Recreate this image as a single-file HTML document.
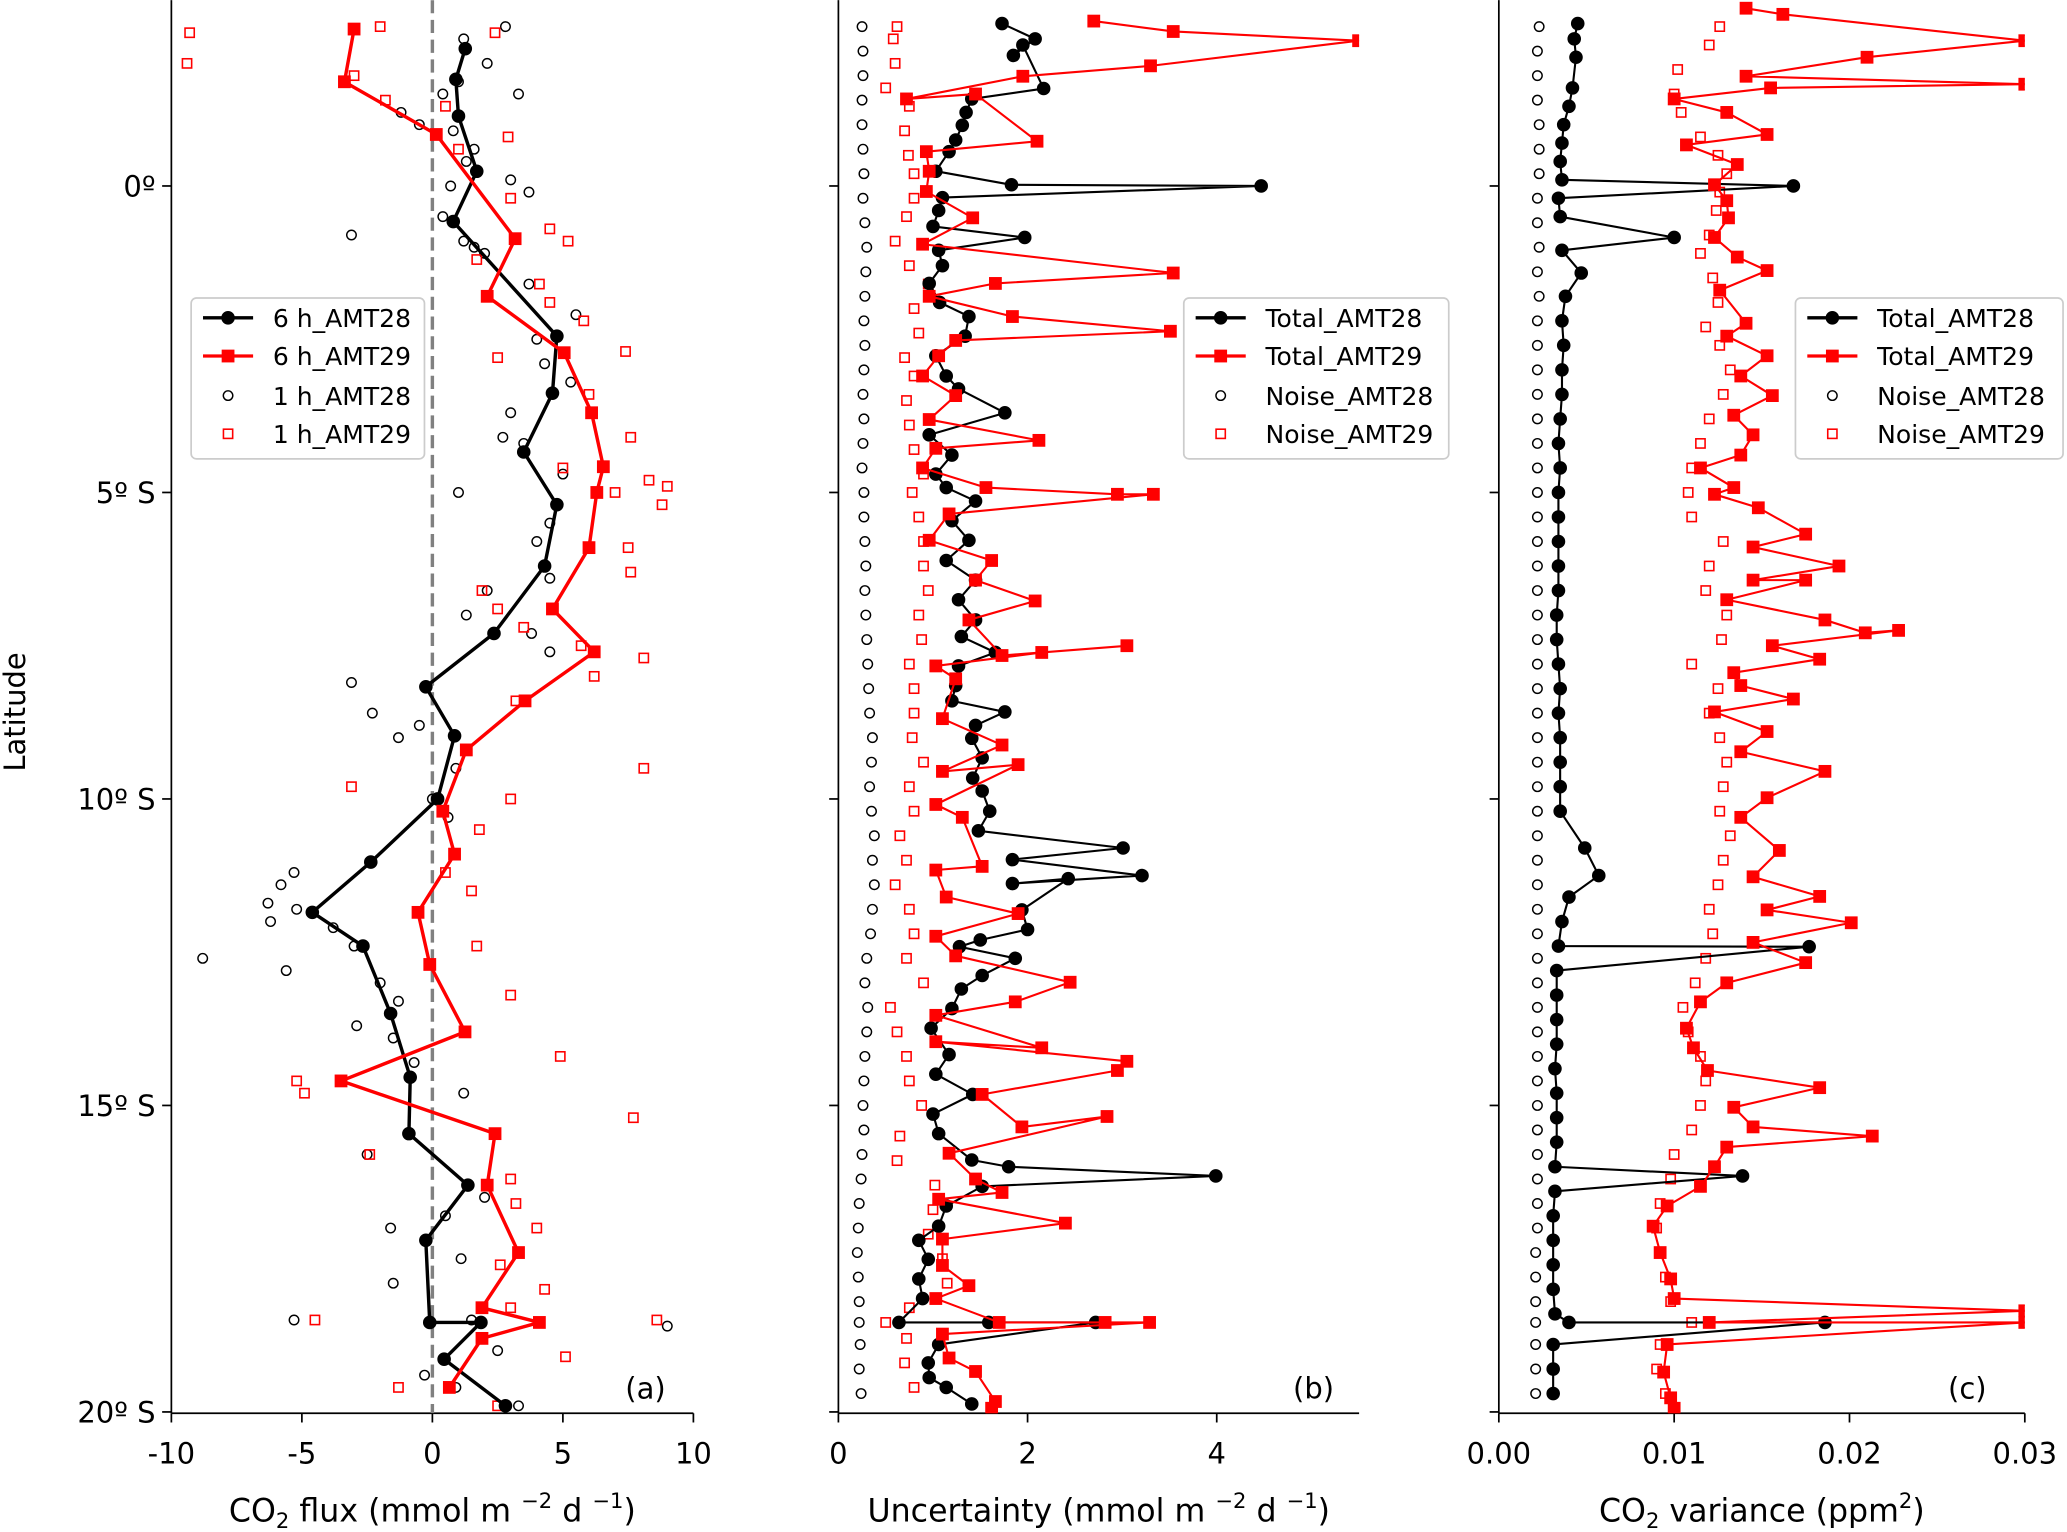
<!DOCTYPE html>
<html><head><meta charset="utf-8">
<style>
html,body{margin:0;padding:0;background:#fff;}
svg{display:block;font-family:"DejaVu Sans","Liberation Sans",sans-serif;}
</style></head>
<body>
<svg id="chart" width="2067" height="1532" viewBox="0 0 1568 1162" xmlns="http://www.w3.org/2000/svg">
<defs>
<clipPath id="ca"><rect x="130" y="0" width="396" height="1072"/></clipPath>
<clipPath id="cb"><rect x="636" y="0" width="395" height="1072"/></clipPath>
<clipPath id="cc"><rect x="1137" y="0" width="399" height="1072"/></clipPath>
</defs>
<g id="root"></g>
</svg>
<script>
// ---------- Panel (a) data ----------
const a6h28Lat = [2.24,1.74,1.14,0.24,-0.58,-2.45,-3.38,-4.34,-5.2,-6.2,-7.3,-8.17,-8.97,-10.0,-11.03,-11.85,-12.4,-13.5,-14.54,-15.46,-16.3,-17.2,-18.54,-18.54,-19.14,-19.9];
const a6h28Val = [1.26,0.9,1.0,1.7,0.8,4.77,4.6,3.5,4.77,4.3,2.36,-0.25,0.85,0.2,-2.36,-4.6,-2.66,-1.6,-0.85,-0.9,1.36,-0.25,-0.1,1.86,0.45,2.8];
const a6h29Lat = [2.56,1.7,0.84,-0.86,-1.8,-2.72,-3.7,-4.58,-5.0,-5.9,-6.9,-7.6,-8.4,-9.2,-10.2,-10.9,-11.85,-12.7,-13.8,-14.6,-15.46,-16.3,-17.4,-18.3,-18.54,-18.8,-19.6];
const a6h29Val = [-3.0,-3.37,0.15,3.17,2.1,5.05,6.1,6.55,6.3,6.0,4.6,6.2,3.55,1.3,0.4,0.85,-0.55,-0.1,1.25,-3.5,2.4,2.1,3.3,1.9,4.1,1.9,0.65];
const a1h28Lat = [2.6,2.4,2.0,1.7,1.5,1.5,1.2,1.0,0.9,0.6,0.4,0.1,0.0,-0.1,-0.5,-0.8,-0.9,-1.1,-1.0,-1.6,-2.1,-2.5,-2.9,-3.2,-3.7,-4.1,-4.2,-4.7,-5.0,-5.5,-5.8,-6.4,-6.6,-7.0,-7.3,-7.6,-8.1,-8.6,-8.8,-9.0,-9.5,-10.0,-10.3,-11.2,-11.4,-11.7,-11.8,-12.0,-12.1,-12.4,-12.6,-12.8,-13.0,-13.3,-13.7,-13.9,-14.3,-14.8,-15.8,-16.5,-16.8,-17.0,-17.5,-17.9,-18.5,-18.5,-18.6,-19.0,-19.4,-19.6,-19.9];
const a1h28Val = [2.8,1.2,2.1,1.0,0.4,3.3,-1.2,-0.5,0.8,1.6,1.3,3.0,0.7,3.7,0.4,-3.1,1.2,2.0,1.6,3.7,5.5,4.0,4.3,5.3,3.0,2.7,3.5,5.0,1.0,4.5,4.0,4.5,2.1,1.3,3.8,4.5,-3.1,-2.3,-0.5,-1.3,0.9,0.0,0.6,-5.3,-5.8,-6.3,-5.2,-6.2,-3.8,-3.0,-8.8,-5.6,-2.0,-1.3,-2.9,-1.5,-0.7,1.2,-2.5,2.0,0.5,-1.6,1.1,-1.5,-5.3,1.5,9.0,2.5,-0.3,0.9,3.3];
const a1h29Lat = [2.5,2.0,2.6,2.5,1.8,1.3,1.4,0.8,0.6,-0.2,-0.7,-0.9,-1.2,-1.6,-1.9,-2.2,-2.8,-2.7,-3.4,-4.1,-4.6,-4.8,-4.9,-5.0,-5.2,-5.9,-6.3,-6.6,-6.9,-7.2,-7.5,-7.7,-8.0,-8.4,-9.5,-9.8,-10.0,-10.5,-11.2,-11.5,-12.4,-13.2,-14.2,-14.6,-14.8,-15.2,-15.8,-16.2,-16.6,-17.0,-17.6,-18.0,-18.5,-18.5,-18.3,-19.1,-19.6,-19.9];
const a1h29Val = [-9.3,-9.4,-2.0,2.4,-3.0,0.5,-1.8,2.9,1.0,3.0,4.5,5.2,1.7,4.1,4.5,5.8,2.5,7.4,6.0,7.6,5.0,8.3,9.0,7.0,8.8,7.5,7.6,1.9,2.5,3.5,5.7,8.1,6.2,3.2,8.1,-3.1,3.0,1.8,0.5,1.5,1.7,3.0,4.9,-5.2,-4.9,7.7,-2.4,3.0,3.2,4.0,2.6,4.3,-4.5,8.6,3.0,5.1,-1.3,2.5];

// ---------- Panel (b) data ----------
const bTot28Lat = [2.65,2.4,2.13,2.3,1.59,1.42,1.2,0.99,0.75,0.56,0.24,0.02,0.0,-0.19,-0.4,-0.66,-0.84,-1.05,-1.3,-1.59,-1.9,-2.13,-2.45,-2.77,-3.1,-3.31,-3.7,-4.06,-4.39,-4.7,-4.92,-5.14,-5.46,-5.78,-6.11,-6.43,-6.75,-7.08,-7.35,-7.61,-7.83,-8.15,-8.4,-8.58,-8.8,-9.01,-9.33,-9.66,-9.87,-10.2,-10.52,-10.8,-10.99,-11.25,-11.38,-11.3,-11.81,-12.13,-12.3,-12.41,-12.6,-12.88,-13.1,-13.42,-13.74,-14.17,-14.49,-14.82,-15.14,-15.46,-15.89,-16.0,-16.15,-16.32,-16.64,-16.97,-17.2,-17.51,-17.83,-18.15,-18.54,-18.54,-18.54,-18.9,-19.2,-19.44,-19.6,-19.87];
const bTot28Val = [1.73,2.08,1.85,1.95,2.17,1.41,1.35,1.31,1.24,1.17,1.03,1.83,4.47,1.1,1.06,1.0,1.97,1.06,1.1,0.96,1.07,1.38,1.34,1.03,1.14,1.27,1.76,0.96,1.2,1.03,1.14,1.45,1.2,1.38,1.14,1.45,1.27,1.45,1.3,1.66,1.27,1.24,1.2,1.76,1.45,1.41,1.52,1.42,1.52,1.6,1.48,3.01,1.84,3.21,1.84,2.43,1.94,2.0,1.5,1.28,1.87,1.52,1.3,1.2,0.98,1.17,1.03,1.42,1.0,1.06,1.41,1.8,3.99,1.52,1.14,1.06,0.85,0.95,0.85,0.89,0.64,1.59,2.72,1.06,0.95,0.96,1.14,1.41];
const bTot29Lat = [2.69,2.52,2.37,1.96,1.79,1.42,1.5,0.73,0.56,0.24,-0.09,-0.52,-0.95,-1.42,-1.59,-1.8,-2.13,-2.37,-2.52,-2.77,-3.1,-3.42,-3.81,-4.15,-4.28,-4.6,-4.92,-5.03,-5.03,-5.35,-5.78,-6.11,-6.43,-6.77,-7.08,-7.66,-7.5,-7.61,-7.83,-8.04,-8.69,-9.12,-9.55,-9.44,-10.09,-10.3,-11.1,-11.16,-11.6,-11.87,-12.24,-12.56,-12.99,-13.31,-13.53,-14.06,-13.96,-14.28,-14.43,-14.82,-15.35,-15.18,-15.78,-16.2,-16.42,-16.53,-16.92,-17.18,-17.61,-17.94,-18.15,-18.54,-18.54,-18.54,-18.73,-19.12,-19.34,-19.83,-19.94];
const bTot29Val = [2.7,3.54,5.5,3.3,1.95,0.72,1.45,2.1,0.93,0.96,0.93,1.42,0.89,3.54,1.66,0.96,1.84,3.51,1.24,1.06,0.89,1.24,0.96,2.12,1.03,0.89,1.56,2.95,3.33,1.17,0.96,1.62,1.45,2.08,1.38,1.73,3.05,2.15,1.03,1.24,1.1,1.73,1.1,1.9,1.03,1.31,1.52,1.03,1.14,1.9,1.03,1.24,2.45,1.87,1.03,2.15,1.03,3.05,2.95,1.52,1.94,2.84,1.17,1.45,1.73,1.06,2.4,1.1,1.1,1.38,1.03,1.7,2.82,3.29,1.1,1.17,1.45,1.66,1.62];
const bNoi28Lat = [2.6,2.2,1.8,1.4,1.0,0.6,0.2,-0.2,-0.6,-1.0,-1.4,-1.8,-2.2,-2.6,-3.0,-3.4,-3.8,-4.2,-4.6,-5.0,-5.4,-5.8,-6.2,-6.6,-7.0,-7.4,-7.8,-8.2,-8.6,-9.0,-9.4,-9.8,-10.2,-10.6,-11.0,-11.4,-11.8,-12.2,-12.6,-13.0,-13.4,-13.8,-14.2,-14.6,-15.0,-15.4,-15.8,-16.2,-16.6,-17.0,-17.4,-17.8,-18.2,-18.54,-18.9,-19.3,-19.7];
const bNoi28Val = [0.25,0.26,0.26,0.25,0.25,0.26,0.27,0.26,0.28,0.3,0.29,0.28,0.27,0.28,0.27,0.26,0.27,0.26,0.25,0.27,0.27,0.28,0.29,0.28,0.29,0.3,0.31,0.32,0.33,0.36,0.35,0.33,0.35,0.38,0.36,0.38,0.36,0.34,0.3,0.28,0.31,0.3,0.28,0.27,0.26,0.27,0.25,0.24,0.22,0.21,0.2,0.21,0.22,0.22,0.23,0.22,0.24];
const bNoi29Lat = [2.6,2.4,2.0,1.6,1.3,0.9,0.5,0.2,-0.2,-0.5,-0.9,-1.3,-1.6,-2.0,-2.4,-2.8,-3.1,-3.5,-3.9,-4.3,-4.7,-5.0,-5.4,-5.8,-6.2,-6.6,-7.0,-7.4,-7.8,-8.2,-8.6,-9.0,-9.4,-9.8,-10.2,-10.6,-11.0,-11.4,-11.8,-12.2,-12.6,-13.0,-13.4,-13.8,-14.2,-14.6,-15.0,-15.5,-15.9,-16.3,-16.7,-17.1,-17.5,-17.9,-18.3,-18.54,-18.8,-19.2,-19.6];
const bNoi29Val = [0.62,0.58,0.6,0.5,0.75,0.7,0.74,0.8,0.8,0.72,0.6,0.75,0.95,0.8,0.85,0.7,0.8,0.72,0.75,0.8,0.9,0.78,0.85,0.9,0.9,0.95,0.85,0.88,0.75,0.8,0.8,0.78,0.9,0.75,0.8,0.65,0.72,0.6,0.75,0.8,0.72,0.9,0.55,0.62,0.72,0.75,0.88,0.65,0.62,1.02,1.0,0.95,1.1,1.15,0.75,0.5,0.72,0.7,0.8];

// ---------- Panel (c) data ----------
const cTot28Lat = [2.65,2.4,2.1,1.6,1.3,1.0,0.7,0.4,0.1,0.0,-0.2,-0.5,-0.84,-1.05,-1.42,-1.8,-2.2,-2.6,-3.0,-3.4,-3.8,-4.2,-4.6,-5.0,-5.4,-5.8,-6.2,-6.6,-7.0,-7.4,-7.8,-8.2,-8.6,-9.0,-9.4,-9.8,-10.2,-10.8,-11.25,-11.6,-12.0,-12.4,-12.41,-12.8,-13.2,-13.6,-14.0,-14.4,-14.8,-15.2,-15.6,-16.0,-16.15,-16.4,-16.8,-17.2,-17.6,-18.0,-18.4,-18.54,-18.54,-18.9,-19.3,-19.7];
const cTot28Val = [0.0045,0.0043,0.0044,0.0042,0.0040,0.0037,0.0036,0.0035,0.0036,0.0168,0.0034,0.0035,0.0100,0.0036,0.0047,0.0038,0.0036,0.0037,0.0036,0.0036,0.0035,0.0034,0.0035,0.0034,0.0034,0.0034,0.0034,0.0034,0.0033,0.0033,0.0034,0.0035,0.0034,0.0035,0.0035,0.0035,0.0035,0.0049,0.0057,0.0040,0.0036,0.0034,0.0177,0.0033,0.0033,0.0033,0.0033,0.0032,0.0033,0.0033,0.0033,0.0032,0.0139,0.0032,0.0031,0.0031,0.0031,0.0031,0.0032,0.0040,0.0186,0.0031,0.0031,0.0031];
const cTot29Lat = [2.9,2.8,2.37,2.1,1.79,1.66,1.6,1.42,1.2,0.84,0.67,0.35,0.02,-0.24,-0.52,-0.84,-1.16,-1.38,-1.7,-2.24,-2.45,-2.77,-3.1,-3.42,-3.74,-4.06,-4.39,-4.6,-4.92,-5.03,-5.25,-5.68,-5.89,-6.2,-6.43,-6.43,-6.75,-7.08,-7.29,-7.25,-7.5,-7.72,-7.94,-8.15,-8.37,-8.58,-8.9,-9.23,-9.55,-9.98,-10.3,-10.84,-11.27,-11.59,-11.81,-12.02,-12.34,-12.67,-13.0,-13.31,-13.74,-14.06,-14.43,-14.71,-15.03,-15.35,-15.5,-15.68,-16.0,-16.32,-16.64,-16.97,-17.4,-17.83,-18.15,-18.35,-18.54,-18.54,-18.9,-19.35,-19.77,-19.94];
const cTot29Val = [0.0141,0.0162,0.0300,0.0210,0.0141,0.0300,0.0155,0.0100,0.0130,0.0153,0.0107,0.0136,0.0123,0.0130,0.0131,0.0123,0.0136,0.0153,0.0126,0.0141,0.0130,0.0153,0.0138,0.0156,0.0134,0.0145,0.0138,0.0115,0.0134,0.0123,0.0148,0.0175,0.0145,0.0194,0.0145,0.0175,0.0130,0.0186,0.0209,0.0228,0.0156,0.0183,0.0134,0.0138,0.0168,0.0123,0.0153,0.0138,0.0186,0.0153,0.0138,0.0160,0.0145,0.0183,0.0153,0.0201,0.0145,0.0175,0.0130,0.0115,0.0107,0.0111,0.0119,0.0183,0.0134,0.0145,0.0213,0.0130,0.0123,0.0115,0.0096,0.0088,0.0092,0.0098,0.0100,0.0300,0.0120,0.0300,0.0096,0.0094,0.0098,0.0100];
const cNoi28Lat = bNoi28Lat;
const cNoi28Val = [0.0023,0.0022,0.0022,0.0022,0.0023,0.0023,0.0023,0.0022,0.0022,0.0023,0.0022,0.0023,0.0022,0.0022,0.0022,0.0022,0.0022,0.0022,0.0022,0.0022,0.0022,0.0022,0.0022,0.0022,0.0022,0.0022,0.0022,0.0022,0.0022,0.0022,0.0022,0.0022,0.0022,0.0022,0.0022,0.0022,0.0022,0.0022,0.0022,0.0022,0.0022,0.0022,0.0022,0.0022,0.0022,0.0022,0.0022,0.0022,0.0022,0.0022,0.0021,0.0021,0.0021,0.0021,0.0021,0.0021,0.0021];
const cNoi29Lat = [2.6,2.3,1.9,1.5,1.2,0.8,0.5,0.2,-0.1,-0.4,-0.8,-1.1,-1.5,-1.9,-2.3,-2.6,-3.0,-3.4,-3.8,-4.2,-4.6,-5.0,-5.4,-5.8,-6.2,-6.6,-7.0,-7.4,-7.8,-8.2,-8.6,-9.0,-9.4,-9.8,-10.2,-10.6,-11.0,-11.4,-11.8,-12.2,-12.6,-13.0,-13.4,-13.8,-14.2,-14.6,-15.0,-15.4,-15.8,-16.2,-16.6,-17.0,-17.4,-17.8,-18.2,-18.54,-18.9,-19.3,-19.7];
const cNoi29Val = [0.0126,0.0120,0.0102,0.0100,0.0104,0.0115,0.0125,0.0130,0.0126,0.0124,0.0120,0.0115,0.0122,0.0125,0.0118,0.0126,0.0132,0.0128,0.0120,0.0115,0.0110,0.0108,0.0110,0.0128,0.0120,0.0118,0.0130,0.0127,0.0110,0.0125,0.0120,0.0126,0.0130,0.0128,0.0126,0.0132,0.0128,0.0125,0.0120,0.0122,0.0118,0.0112,0.0105,0.0108,0.0115,0.0118,0.0115,0.0110,0.0100,0.0098,0.0092,0.0090,0.0092,0.0095,0.0098,0.0110,0.0092,0.0090,0.0095];

// ---------- tick arrays ----------
const latTicks = [0,-5,-10,-15,-20];
const latTickLabels = ["0º","5º S","10º S","15º S","20º S"];
const aTicks = [-10,-5,0,5,10];
const bTicks = [0,2,4];
const cTicks = [0,0.01,0.02,0.03];
const cTickLabels = ["0.00","0.01","0.02","0.03"];

const NS="http://www.w3.org/2000/svg";
const root=document.getElementById('root');
function mk(tag,attrs,parent){const e=document.createElementNS(NS,tag);for(const k in attrs)e.setAttribute(k,attrs[k]);(parent||root).appendChild(e);return e;}
function yS(lat){return 141-lat*46.5;}
function xScale(p0,p1,v0,v1){return v=>p0+(v-v0)/(v1-v0)*(p1-p0);}
const xa=xScale(130,526,-10,10), xb=xScale(636,923,0,4), xc=xScale(1137,1536,0,0.03);

function line(g,sx,lat,val,color,w,name){
  const pts=lat.map((l,i)=>sx(val[i]).toFixed(1)+','+yS(l).toFixed(1)).join(' ');
  const p=mk('polyline',{points:pts,fill:'none',stroke:color,'stroke-width':w,'stroke-linejoin':'round'},g);
  
  
}
function dots(g,sx,lat,val,kind,color,fill,name){
  lat.forEach((l,i)=>{
    const x=sx(val[i]),y=yS(l);let e;
    if(kind==='c') e=mk('circle',{cx:x,cy:y,r:fill==='none'?3.6:4.6,fill:fill,stroke:color,'stroke-width':1.1},g);
    else {const s=fill==='none'?7:8.5;e=mk('rect',{x:x-s/2,y:y-s/2,width:s,height:s,fill:fill,stroke:color,'stroke-width':1.2},g);}
    
    
  });
}
function axes(x0,x1,ticks,labels,sx,xlabel,name,showY){
  const g=mk('g',{});
  
  
  mk('line',{x1:x0,y1:0,x2:x0,y2:1072,stroke:'#000','stroke-width':1.3},g);
  mk('line',{x1:x0,y1:1072,x2:x1,y2:1072,stroke:'#000','stroke-width':1.3},g);
  ticks.forEach((t,i)=>{const x=sx(t);
    mk('line',{x1:x,y1:1072,x2:x,y2:1079,stroke:'#000','stroke-width':1.3},g);
    const tx=mk('text',{x:x,y:1110,'font-size':22,'text-anchor':'middle'},g);tx.textContent=labels[i];
    
    
  });
  latTicks.forEach((t,i)=>{const y=yS(t);
    mk('line',{x1:x0-7,y1:y,x2:x0,y2:y,stroke:'#000','stroke-width':1.3},g);
    if(showY){const tx=mk('text',{x:x0-12,y:y+8,'font-size':22,'text-anchor':'end'},g);tx.textContent=latTickLabels[i];
      
      }
  });
  const xl=mk('text',{x:(x0+x1)/2,y:1154,'font-size':24,'text-anchor':'middle'},g);xl.innerHTML=xlabel;
  
  
  return g;
}
function panelLabel(x,txt){const t=mk('text',{x:x,y:1061,'font-size':22,'text-anchor':'end'});t.textContent=txt;
  
  }
function legend(x,w,labels,name){
  const g=mk('g',{});
  
  
  mk('rect',{x:x,y:226,width:w,height:122,rx:4,fill:'#fff','fill-opacity':0.85,stroke:'#ccc','stroke-width':1.3},g);
  const ys=[241,270,300,329];
  ys.forEach((y,i)=>{
    const sx=x+9, cx=x+28;
    if(i<2){mk('line',{x1:sx,y1:y,x2:sx+38,y2:y,stroke:i?'#f00':'#000','stroke-width':2.5},g);}
    if(i===0||i===2) mk('circle',{cx:cx,cy:y,r:i?3.6:4.6,fill:i?'none':'#000',stroke:'#000','stroke-width':1.1},g);
    else {const s=i===1?8.5:7;mk('rect',{x:cx-s/2,y:y-s/2,width:s,height:s,fill:i===1?'#f00':'none',stroke:'#f00','stroke-width':1.2},g);}
    const t=mk('text',{x:x+62,y:y+7,'font-size':19},g);t.textContent=labels[i];
    
    
  });
}

// Panel a
axes(130,526,aTicks,aTicks.map(String),xa,'CO<tspan font-size="16" dy="5">2</tspan><tspan dy="-5"> flux (mmol m </tspan><tspan font-size="16" dy="-10">−2</tspan><tspan dy="10"> d </tspan><tspan font-size="16" dy="-10">−1</tspan><tspan dy="10">)</tspan>','panel-a',true);
const ga=mk('g',{'clip-path':'url(#ca)'});


mk('line',{x1:xa(0),y1:0,x2:xa(0),y2:1072,stroke:'#808080','stroke-width':2.6,'stroke-dasharray':'10,5'},ga);
dots(ga,xa,a1h28Lat,a1h28Val,'c','#000','none','point-1h-amt28');
dots(ga,xa,a1h29Lat,a1h29Val,'s','#f00','none','point-1h-amt29');
line(ga,xa,a6h28Lat,a6h28Val,'#000',2.6,'line-6h-amt28');
dots(ga,xa,a6h28Lat,a6h28Val,'c','#000','#000','point-6h-amt28');
line(ga,xa,a6h29Lat,a6h29Val,'#f00',2.6,'line-6h-amt29');
dots(ga,xa,a6h29Lat,a6h29Val,'s','#f00','#f00','point-6h-amt29');
panelLabel(505,'(a)');
legend(145,177,['6 h_AMT28','6 h_AMT29','1 h_AMT28','1 h_AMT29'],'legend-a');

// Panel b
axes(636,1031,bTicks,bTicks.map(String),xb,'Uncertainty (mmol m <tspan font-size="16" dy="-10">−2</tspan><tspan dy="10"> d </tspan><tspan font-size="16" dy="-10">−1</tspan><tspan dy="10">)</tspan>','panel-b',false);
const gb=mk('g',{'clip-path':'url(#cb)'});


dots(gb,xb,bNoi28Lat,bNoi28Val,'c','#000','none','noise-amt28-b');
dots(gb,xb,bNoi29Lat,bNoi29Val,'s','#f00','none','noise-amt29-b');
line(gb,xb,bTot28Lat,bTot28Val,'#000',1.6,'total-amt28-b');
dots(gb,xb,bTot28Lat,bTot28Val,'c','#000','#000','total-amt28-point');
line(gb,xb,bTot29Lat,bTot29Val,'#f00',1.6,'total-amt29-b');
dots(gb,xb,bTot29Lat,bTot29Val,'s','#f00','#f00','total-amt29-point');
panelLabel(1012,'(b)');
legend(898,201,['Total_AMT28','Total_AMT29','Noise_AMT28','Noise_AMT29'],'legend-b');

// Panel c
axes(1137,1536,cTicks,cTickLabels,xc,'CO<tspan font-size="16" dy="5">2</tspan><tspan dy="-5"> variance (ppm</tspan><tspan font-size="16" dy="-10">2</tspan><tspan dy="10">)</tspan>','panel-c',false);
const gc=mk('g',{'clip-path':'url(#cc)'});


dots(gc,xc,cNoi28Lat,cNoi28Val,'c','#000','none','noise-amt28-c');
dots(gc,xc,cNoi29Lat,cNoi29Val,'s','#f00','none','noise-amt29-c');
line(gc,xc,cTot28Lat,cTot28Val,'#000',1.6,'total-amt28-c');
dots(gc,xc,cTot28Lat,cTot28Val,'c','#000','#000','total-amt28-point');
line(gc,xc,cTot29Lat,cTot29Val,'#f00',1.6,'total-amt29-c');
dots(gc,xc,cTot29Lat,cTot29Val,'s','#f00','#f00','total-amt29-point');
panelLabel(1507,'(c)');
legend(1362,203,['Total_AMT28','Total_AMT29','Noise_AMT28','Noise_AMT29'],'legend-c');

// y axis title
const yt=mk('text',{x:0,y:0,'font-size':22,'text-anchor':'middle',transform:'translate(19,540) rotate(-90)'});
yt.textContent='Latitude';


</script>
</body></html>
